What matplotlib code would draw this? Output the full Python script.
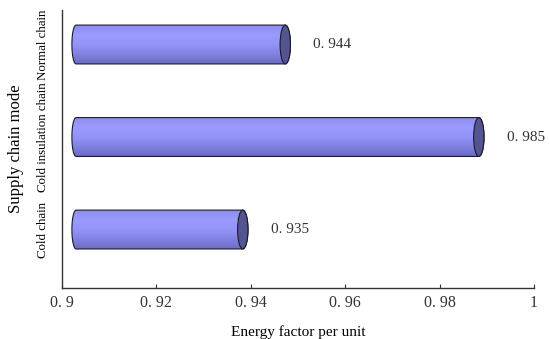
import numpy as np
import matplotlib.pyplot as plt
from matplotlib.patches import Ellipse, PathPatch
from matplotlib.path import Path
from matplotlib.colors import LinearSegmentedColormap

modes = ['Cold chain', 'Cold insulation chain', 'Normal chain']
values = [0.935, 0.985, 0.944]
xticks = [0.9, 0.92, 0.94, 0.96, 0.98, 1.0]
xticklabels = ['0. 9', '0. 92', '0. 94', '0. 96', '0. 98', '1']

plt.rcParams['font.family'] = ['Liberation Serif', 'DejaVu Serif']

fig = plt.figure(figsize=(5.5, 3.39), dpi=100)
ax = fig.add_axes([0.1127, 0.1504, 0.8583, 0.8201])

x_start = 0.9021   # cylinders start a little right of the axis
depth = 0.0033     # 3d shift of the end cap
h = 0.42
ew = 0.0022        # ellipse width in data units

cmap = LinearSegmentedColormap.from_list(
    'cyl', ['#6c6cc4', '#8282e2', '#9494f8', '#9a9aff', '#8e8ef2'])
grad = np.linspace(0, 1, 64).reshape(-1, 1)

for i, v in enumerate(values):
    x1 = v + depth
    y0, y1 = i - h / 2, i + h / 2
    # outline: left half ellipse + body + right half ellipse
    t = np.linspace(np.pi / 2, 3 * np.pi / 2, 40)
    left = np.column_stack([x_start + ew * 0.4 + ew * 0.4 * np.cos(t),
                            i + h / 2 * np.sin(t)])
    t2 = np.linspace(-np.pi / 2, np.pi / 2, 40)
    right = np.column_stack([x1 + ew / 2 * np.cos(t2), i + h / 2 * np.sin(t2)])
    verts = np.vstack([left, right, left[:1]])
    codes = [Path.MOVETO] + [Path.LINETO] * (len(verts) - 2) + [Path.CLOSEPOLY]
    body = PathPatch(Path(verts, codes), facecolor='none', edgecolor='#1a1a2a',
                     lw=0.8, zorder=3)
    ax.add_patch(body)
    im = ax.imshow(grad, cmap=cmap, aspect='auto', origin='lower',
                   extent=[x_start, x1 + ew, y0, y1], zorder=2,
                   interpolation='bilinear')
    im.set_clip_path(body)
    cap = Ellipse((x1, i), ew, h, facecolor='#545490', edgecolor='#1a1a2a',
                  lw=0.8, zorder=4)
    ax.add_patch(cap)
    ax.text(v + 0.0092, i, f'{v:.3f}'.replace('.', '. '), va='center',
            ha='left', fontsize=11, color='#333333')

ax.set_xlim(0.9, 1.0)
ax.set_ylim(-0.632, 2.373)
ax.set_xticks(xticks)
ax.set_xticklabels(xticklabels, fontsize=11.5, color='#333333')
ax.set_yticks(range(len(modes)))
ax.set_yticklabels(modes, rotation=90, va='center', fontsize=9.3)
ax.tick_params(axis='x', direction='in', length=3, width=0.8, color='#333333', pad=5)
ax.tick_params(axis='y', length=0, pad=9)
for s in ['top', 'right']:
    ax.spines[s].set_visible(False)
for s in ['left', 'bottom']:
    ax.spines[s].set_color('#333333')
    ax.spines[s].set_linewidth(1.0)

ax.set_xlabel('Energy factor per unit', fontsize=11, labelpad=10)
ax.set_ylabel('Supply chain mode', fontsize=12, labelpad=10)

fig.savefig('out.png', dpi=100)
